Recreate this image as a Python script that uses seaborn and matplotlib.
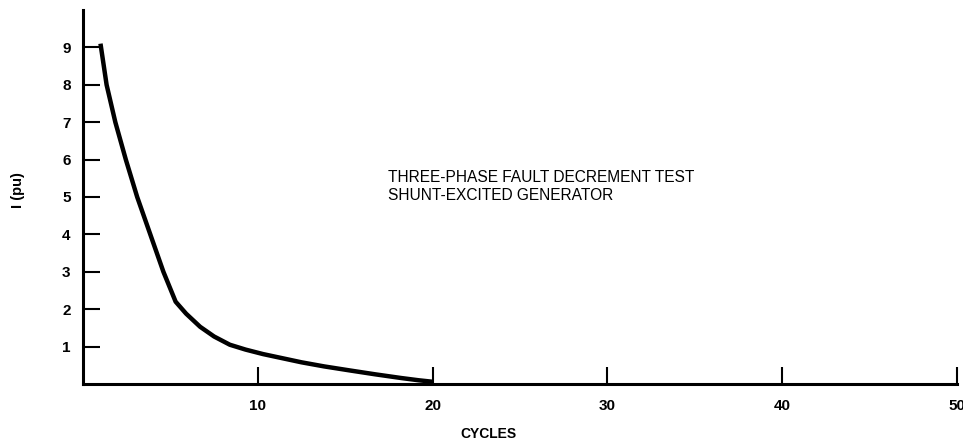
import matplotlib
matplotlib.use("Agg")
import matplotlib.pyplot as plt
import seaborn as sns
import pandas as pd

# Three-phase fault decrement, shunt-excited generator
cycles = [1.0, 1.35, 1.85, 2.45, 3.1, 3.85, 4.6, 5.3,
          5.9, 6.7, 7.5, 8.4, 9.3, 10.3, 11.4, 12.5, 13.8,
          15.3, 16.7, 18.2, 19.2, 20.0]
current_pu = [9.1, 8.0, 7.0, 6.0, 5.0, 4.0, 3.0, 2.2,
              1.88, 1.53, 1.27, 1.05, 0.92, 0.80, 0.69, 0.58, 0.47,
              0.36, 0.26, 0.16, 0.10, 0.06]
x_ticks = [10, 20, 30, 40, 50]
y_ticks = [1, 2, 3, 4, 5, 6, 7, 8, 9]

df = pd.DataFrame({"cycles": cycles, "current": current_pu})

sns.set_theme(style="ticks", rc={
    "text.color": "black", "axes.labelcolor": "black",
    "xtick.color": "black", "ytick.color": "black",
    "axes.edgecolor": "black",
})
plt.rcParams["font.family"] = ["Liberation Sans", "DejaVu Sans"]

fig = plt.figure(figsize=(9.63, 4.41), dpi=100)
ax = fig.add_axes([83 / 963, 57 / 441, (957 - 83) / 963, (384 - 10) / 441])

sns.lineplot(data=df, x="cycles", y="current", ax=ax, color="black",
             linewidth=3.2, solid_capstyle="butt", solid_joinstyle="round")

ax.set_xlim(0, 50)
ax.set_ylim(0, 10)
ax.set_xticks(x_ticks)
ax.set_yticks(y_ticks)
ax.set_xticklabels([str(t) for t in x_ticks], fontsize=11, fontweight="bold")
ax.set_yticklabels([str(t) for t in y_ticks], fontsize=11, fontweight="bold")
ax.tick_params(direction="in", length=12, width=1.5, color="black", pad=9)
ax.tick_params(axis="x", pad=11)

for side in ("top", "right"):
    ax.spines[side].set_visible(False)
for side in ("left", "bottom"):
    ax.spines[side].set_linewidth(2.2)

ax.set_xlabel("")
ax.set_ylabel("")
fig.text(488 / 963, 1 - 434 / 441, "CYCLES", ha="center", va="center",
         fontsize=10, fontweight="bold")
fig.text(18 / 963, 1 - 190 / 441, "I (pu)", ha="center", va="center",
         rotation=90, fontsize=10.5, fontweight="bold")

fig.text(388 / 963, 1 - 186 / 441,
         "THREE-PHASE FAULT DECREMENT TEST\nSHUNT-EXCITED GENERATOR",
         ha="left", va="center", fontsize=11.2, linespacing=1.25)

fig.savefig("out.png", dpi=100)
